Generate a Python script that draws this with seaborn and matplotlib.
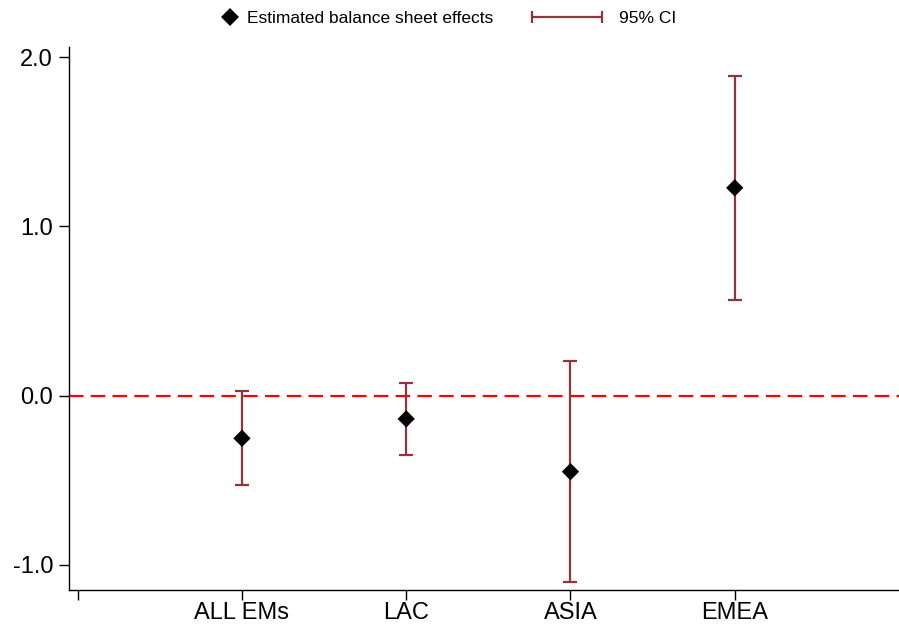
import numpy as np
import matplotlib
matplotlib.use("Agg")
import matplotlib.pyplot as plt
from matplotlib.lines import Line2D
from matplotlib.legend_handler import HandlerLine2D
import seaborn as sns

categories = ["ALL EMs", "LAC", "ASIA", "EMEA"]
estimates = [-0.252, -0.137, -0.449, 1.228]
ci_low = [-0.529, -0.348, -1.099, 0.565]
ci_high = [0.026, 0.077, 0.203, 1.890]
y_ticks = [-1.0, 0.0, 1.0, 2.0]

sns.set_style("ticks")
plt.rcParams["font.family"] = ["Liberation Sans", "DejaVu Sans"]
plt.rcParams["text.color"] = "black"
plt.rcParams["xtick.labelcolor"] = "black"
plt.rcParams["ytick.labelcolor"] = "black"

ci_color = "#90353B"

fig = plt.figure(figsize=(8.99, 6.31), dpi=100)
ax = fig.add_axes([69 / 899, 1 - 590 / 631, 1 - 69 / 899, (590 - 47) / 631])

xpos = np.arange(1, len(categories) + 1)
est = np.array(estimates)
lo = np.array(ci_low)
hi = np.array(ci_high)

ax.axhline(0, color="#FF0000", lw=1.6, ls=(0, (6.5, 3.3)), zorder=1)
ax.errorbar(xpos, est, yerr=[est - lo, hi - est], fmt="none", ecolor=ci_color,
            elinewidth=1.6, capsize=4.7, capthick=1.6, zorder=2)
sns.scatterplot(x=xpos, y=est, marker="D", s=78, color="black",
                edgecolor="none", linewidth=0, zorder=3, ax=ax, legend=False)

ax.set_xlim(-0.053, 5.0)
ax.set_ylim(-1.148, 2.06)
ax.set_xticks([0] + list(xpos))
ax.set_xticklabels([""] + categories)
ax.set_yticks(y_ticks)
ax.set_yticklabels([f"{v:.1f}" for v in y_ticks])
ax.tick_params(axis="both", labelsize=17, length=7, width=1, color="black",
               labelcolor="black", direction="out")
ax.tick_params(axis="x", pad=1.5)
ax.tick_params(axis="y", pad=4.5)
sns.despine(ax=ax)
for s in ["left", "bottom"]:
    ax.spines[s].set_linewidth(1.0)
    ax.spines[s].set_color("black")
ax.set_xlabel("")
ax.set_ylabel("")

# Legends
yc = 1 - 18 / 631
h1 = Line2D([], [], marker="D", color="black", ls="none", markersize=8.8,
            markeredgewidth=0)
fig.legend([h1], ["Estimated balance sheet effects"], loc="center left",
           bbox_to_anchor=(221 / 899, yc), frameon=False, fontsize=12.5,
           handlelength=1.0, handletextpad=0.52, borderpad=0, borderaxespad=0,
           labelcolor="black")
h2 = Line2D([], [], color=ci_color, lw=1.6, marker="|", markersize=9,
            markeredgewidth=1.6)
fig.legend([h2], ["95% CI"], loc="center left",
           bbox_to_anchor=(527 / 899, yc), frameon=False, fontsize=12.5,
           handlelength=4.6, handletextpad=0.69, borderpad=0, borderaxespad=0,
           handler_map={h2: HandlerLine2D(numpoints=2)}, labelcolor="black")

fig.savefig("out.png", dpi=100)
